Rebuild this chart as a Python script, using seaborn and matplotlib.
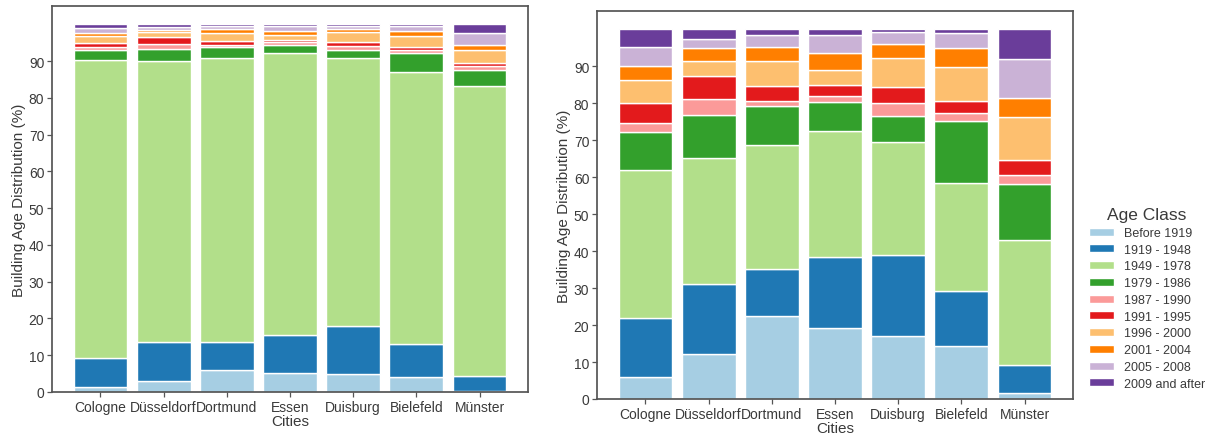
import numpy as np
import matplotlib
matplotlib.use("Agg")
import matplotlib.pyplot as plt
import seaborn as sns

cities = ["Cologne", "Düsseldorf", "Dortmund", "Essen", "Duisburg", "Bielefeld", "Münster"]
age_classes = ["Before 1919", "1919 - 1948", "1949 - 1978", "1979 - 1986", "1987 - 1990",
               "1991 - 1995", "1996 - 2000", "2001 - 2004", "2005 - 2008", "2009 and after"]

# left panel: share per age class (%), one list per city, ordered as age_classes
left_cologne    = [1.4, 7.9, 81.0, 2.7, 0.9, 1.1, 1.8, 0.8, 1.4, 1.0]
left_dusseldorf = [3.0, 10.5, 76.5, 3.4, 1.2, 1.9, 1.3, 0.6, 1.0, 0.6]
left_dortmund   = [6.1, 7.4, 77.4, 3.0, 0.5, 1.1, 2.1, 1.1, 0.9, 0.4]
left_essen      = [5.2, 10.4, 76.6, 2.2, 0.7, 0.6, 1.4, 1.0, 1.5, 0.4]
left_duisburg   = [4.8, 13.2, 72.9, 2.1, 1.1, 1.1, 2.6, 0.9, 0.9, 0.4]
left_bielefeld  = [4.1, 9.0, 74.0, 5.0, 0.9, 0.9, 2.9, 1.4, 1.4, 0.4]
left_munster    = [0.3, 4.1, 78.9, 4.4, 1.0, 0.9, 3.4, 1.5, 3.1, 2.4]

# right panel
right_cologne    = [6.0, 15.9, 40.1, 10.3, 2.3, 5.6, 6.1, 3.8, 5.1, 4.8]
right_dusseldorf = [12.2, 18.8, 34.2, 11.7, 4.2, 6.4, 4.1, 3.3, 2.6, 2.5]
right_dortmund   = [22.4, 12.9, 33.5, 10.5, 1.4, 4.1, 6.8, 3.7, 3.2, 1.5]
right_essen      = [19.2, 19.1, 34.1, 8.0, 1.6, 2.9, 4.1, 4.5, 5.0, 1.5]
right_duisburg   = [17.0, 22.1, 30.5, 7.0, 3.4, 4.5, 7.7, 3.8, 3.2, 0.8]
right_bielefeld  = [14.3, 14.8, 29.4, 16.7, 2.1, 3.3, 9.3, 5.0, 4.1, 1.0]
right_munster    = [1.7, 7.6, 33.7, 15.2, 2.4, 4.1, 11.5, 5.3, 10.5, 8.0]

left_data = np.array([left_cologne, left_dusseldorf, left_dortmund, left_essen,
                      left_duisburg, left_bielefeld, left_munster])
right_data = np.array([right_cologne, right_dusseldorf, right_dortmund, right_essen,
                       right_duisburg, right_bielefeld, right_munster])

sns.set_theme(style="ticks")
plt.rcParams["font.family"] = ["Liberation Sans", "DejaVu Sans"]
plt.rcParams["axes.edgecolor"] = "#555555"
plt.rcParams["xtick.color"] = "#555555"
plt.rcParams["ytick.color"] = "#555555"
plt.rcParams["xtick.labelcolor"] = "#3a3a3a"
plt.rcParams["ytick.labelcolor"] = "#3a3a3a"
plt.rcParams["axes.labelcolor"] = "#3a3a3a"
plt.rcParams["text.color"] = "#3a3a3a"

colors = sns.color_palette("Paired", len(age_classes))

fig = plt.figure(figsize=(12.05, 4.35), dpi=100)
ax1 = fig.add_axes([52 / 1205, 42 / 435, 476 / 1205, 386 / 435])
ax2 = fig.add_axes([597 / 1205, 35 / 435, 476 / 1205, 388 / 435])


def stacked(ax, data):
    x = np.arange(len(cities))
    bottom = np.zeros(len(cities))
    for j, label in enumerate(age_classes):
        ax.bar(x, data[:, j], bottom=bottom, width=0.85, color=colors[j],
               edgecolor="white", linewidth=1.0, label=label)
        bottom += data[:, j]
    ax.set_xticks(x)
    ax.set_xticklabels(cities, fontsize=10)
    ax.set_yticks(np.arange(0, 100, 10))
    ax.tick_params(axis="both", labelsize=10, length=3.5, pad=2, width=0.9)
    ax.set_xlabel("Cities", fontsize=11, labelpad=0)
    ax.set_ylabel("Building Age Distribution (%)", fontsize=11, labelpad=2)


stacked(ax1, left_data)
stacked(ax2, right_data)

ax2.legend(title="Age Class", loc="lower left", bbox_to_anchor=(1.01, -0.005),
           frameon=False, fontsize=9, title_fontsize=12.5, labelspacing=0.38,
           handlelength=2.0, handleheight=0.6)

fig.savefig("out.png", dpi=100)
